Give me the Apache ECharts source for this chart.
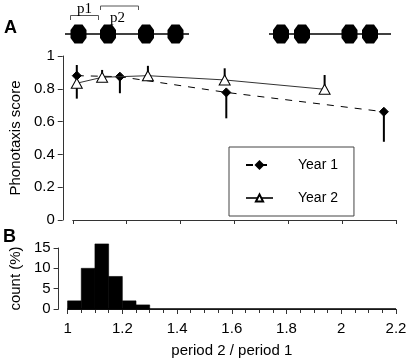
<!DOCTYPE html>
<html>
<head>
<meta charset="utf-8">
<script src="https://cdn.jsdelivr.net/npm/echarts@6/dist/echarts.min.js"></script>
<style>
html, body { margin: 0; padding: 0; background: #fff; }
#main { width: 415px; height: 362px; }
</style>
</head>
<body>
<div id="main"></div>
<script>
(function () {
    var myChart = echarts.init(document.getElementById('main'));

    // panel A: phonotaxis score vs period ratio
    var year1X = [1.015, 1.175, 1.57, 2.155];
    var year1Y = [0.88, 0.874, 0.778, 0.66];
    var year1Low = [0.74, 0.773, 0.62, 0.477];   // error bars drawn downwards

    var year2X = [1.015, 1.109, 1.279, 1.564, 1.935];
    var year2Y = [0.834, 0.87, 0.88, 0.854, 0.797];
    var year2High = [0.945, 0.915, 0.94, 0.925, 0.884]; // error bars drawn upwards

    // panel B: histogram of period ratios, bins of 0.05
    var binStart = [1.0, 1.05, 1.1, 1.15, 1.2, 1.25];
    var binCount = [2, 10, 16, 8, 2, 1];
    var binWidth = 0.05;

    var font = '"Liberation Sans", Arial, sans-serif';
    var ink = '#000';

    function pairs(xs, ys) {
        return xs.map(function (x, i) { return [x, ys[i]]; });
    }

    function errData(xs, ys, ends) {
        return xs.map(function (x, i) { return [x, ys[i], ends[i]]; });
    }

    function errRender(params, api) {
        var p0 = api.coord([api.value(0), api.value(1)]);
        var p1 = api.coord([api.value(0), api.value(2)]);
        return {
            type: 'line',
            shape: { x1: p0[0], y1: p0[1], x2: p1[0], y2: p1[1] },
            style: { stroke: ink, lineWidth: 2 }
        };
    }

    // little sound pulse (octagon) for the stimulus cartoon
    function pulse(cx, cy) {
        return {
            type: 'polygon',
            shape: { points: [
                [cx - 4, cy - 9.5], [cx + 4, cy - 9.5], [cx + 8, cy - 4], [cx + 8, cy + 4],
                [cx + 4, cy + 9.5], [cx - 4, cy + 9.5], [cx - 8, cy + 4], [cx - 8, cy - 4]
            ] },
            style: { fill: '#000' }
        };
    }

    function hline(x1, x2, y, color, w) {
        return { type: 'line', shape: { x1: x1, y1: y, x2: x2, y2: y }, style: { stroke: color, lineWidth: w } };
    }

    function bracket(x1, x2, yTop, yEnd) {
        return {
            type: 'polyline',
            shape: { points: [[x1, yEnd], [x1, yTop], [x2, yTop], [x2, yEnd]] },
            style: { stroke: '#555', lineWidth: 1, fill: null }
        };
    }

    var cartoon = [
        hline(65, 189, 34, '#000', 1.5),
        hline(269, 391, 34, '#000', 1.5),
        pulse(78.5, 34), pulse(108, 34), pulse(146, 34), pulse(175.5, 34),
        pulse(281, 34), pulse(302, 34), pulse(349.5, 34), pulse(370, 34),
        bracket(70.5, 98.5, 15.5, 20),
        bracket(100.5, 138.5, 6, 10),
        { type: 'text', left: 77, top: 2, style: { text: 'p1', font: '15px "Liberation Serif", serif', fill: '#000' } },
        { type: 'text', left: 110, top: 11, style: { text: 'p2', font: '15px "Liberation Serif", serif', fill: '#000' } },
        { type: 'text', left: 4, top: 19, style: { text: 'A', font: 'bold 18px ' + font, fill: '#000' } },
        { type: 'text', left: 3, top: 228, style: { text: 'B', font: 'bold 18px ' + font, fill: '#000' } }
    ];

    myChart.setOption({
        backgroundColor: '#fff',
        animation: false,
        textStyle: { fontFamily: font, color: ink },
        graphic: cartoon,
        legend: {
            orient: 'vertical',
            left: 229,
            top: 147,
            padding: [10, 16, 10, 16],
            itemWidth: 27,
            itemHeight: 9,
            itemGap: 17,
            borderColor: '#444',
            borderWidth: 1,
            textStyle: { fontSize: 14, color: ink, fontFamily: font, padding: [0, 0, 0, 20], lineHeight: 16 },
            data: ['Year 1', 'Year 2']
        },
        grid: [
            { left: 66, right: 19, top: 56, height: 164 },
            { left: 66, right: 19, top: 248, height: 61 }
        ],
        xAxis: [
            {
                gridIndex: 0, type: 'value', min: 1, max: 2.2, interval: 0.2,
                offset: 4,
                axisLine: { lineStyle: { color: '#333', width: 1 } },
                axisTick: { length: 4, lineStyle: { color: '#333' } },
                axisLabel: { show: false },
                splitLine: { show: false }
            },
            {
                gridIndex: 1, type: 'value', min: 1, max: 2.2, interval: 0.2,
                offset: 6,
                name: 'period 2 / period 1',
                nameLocation: 'middle',
                nameGap: 28,
                nameTextStyle: { fontSize: 15, color: ink },
                axisLine: { lineStyle: { color: '#333', width: 1 } },
                axisTick: { length: 5, lineStyle: { color: '#333' } },
                minorTick: { show: true, splitNumber: 4, length: 4, lineStyle: { color: '#333' } },
                axisLabel: { fontSize: 15, color: ink, margin: 6 },
                splitLine: { show: false }
            }
        ],
        yAxis: [
            {
                gridIndex: 0, type: 'value', min: 0, max: 1, interval: 0.2,
                offset: 10,
                name: 'Phonotaxis score',
                nameLocation: 'middle',
                nameGap: 31,
                nameTextStyle: { fontSize: 15, color: ink },
                axisLine: { show: true, lineStyle: { color: '#333', width: 1 } },
                axisTick: { show: true, length: 5, lineStyle: { color: '#333' } },
                axisLabel: { fontSize: 15, color: ink, margin: 8 },
                splitLine: { show: false }
            },
            {
                gridIndex: 1, type: 'value', min: 0, max: 15, interval: 5,
                offset: 9,
                name: 'count (%)',
                nameLocation: 'middle',
                nameGap: 31,
                nameTextStyle: { fontSize: 15, color: ink },
                axisLine: { show: true, lineStyle: { color: '#333', width: 1 } },
                axisTick: { show: true, length: 5, lineStyle: { color: '#333' } },
                axisLabel: { fontSize: 15, color: ink, margin: 8 },
                splitLine: { show: false }
            }
        ],
        series: [
            {
                name: 'Year 1',
                type: 'line',
                xAxisIndex: 0, yAxisIndex: 0,
                data: pairs(year1X, year1Y),
                symbol: 'diamond',
                symbolSize: 9,
                itemStyle: { color: '#000', borderColor: '#000', borderWidth: 1 },
                lineStyle: { color: '#000', width: 1, type: [7, 7] },
                z: 4
            },
            {
                name: 'Year 2',
                type: 'line',
                xAxisIndex: 0, yAxisIndex: 0,
                data: pairs(year2X, year2Y),
                symbol: 'triangle',
                symbolSize: [11, 10],
                itemStyle: { color: '#fff', borderColor: '#000', borderWidth: 1 },
                lineStyle: { color: '#333', width: 1 },
                z: 5
            },
            {
                type: 'custom',
                xAxisIndex: 0, yAxisIndex: 0,
                data: errData(year1X, year1Y, year1Low),
                renderItem: errRender,
                z: 3
            },
            {
                type: 'custom',
                xAxisIndex: 0, yAxisIndex: 0,
                data: errData(year2X, year2Y, year2High),
                renderItem: errRender,
                z: 3
            },
            {
                type: 'custom',
                xAxisIndex: 1, yAxisIndex: 1,
                clip: false,
                data: binStart.map(function (b, i) { return [b, binCount[i]]; }),
                renderItem: function (params, api) {
                    var p0 = api.coord([api.value(0), api.value(1)]);
                    var p1 = api.coord([api.value(0) + binWidth, 0]);
                    return {
                        type: 'rect',
                        shape: { x: p0[0], y: p0[1], width: p1[0] - p0[0], height: p1[1] - p0[1] },
                        style: { fill: '#000', stroke: '#000', lineWidth: 0.6 }
                    };
                }
            },
            {
                type: 'line',
                xAxisIndex: 1, yAxisIndex: 1,
                data: [[1, 0], [2.2, 0]],
                symbol: 'none',
                lineStyle: { color: '#000', width: 1.5 },
                silent: true
            }
        ]
    });
})();
</script>
</body>
</html>
